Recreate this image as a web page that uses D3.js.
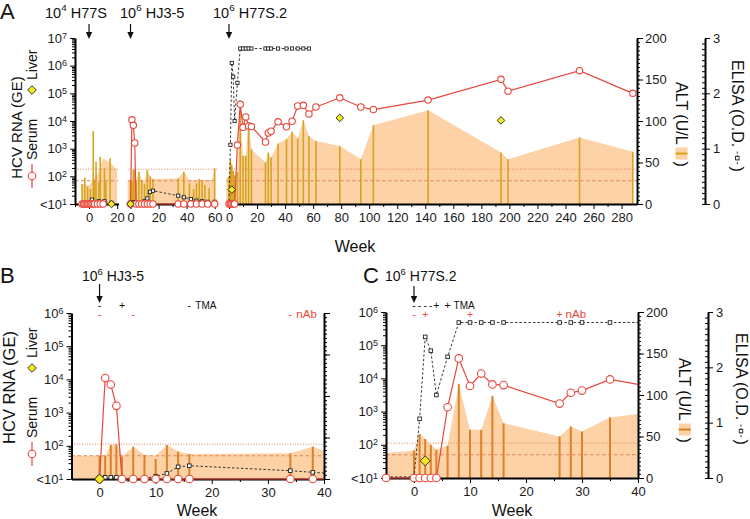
<!DOCTYPE html>
<html>
<head>
<script src="https://cdn.jsdelivr.net/npm/d3@7"></script>
<style>
body { margin: 0; background: #fff; }
svg { font-family: "Liberation Sans", Arial, Helvetica, sans-serif; }
.axis .domain { stroke: #000; stroke-width: 2; }
.axis line { stroke: #000; stroke-width: 1; }
.axis text { font-family: "Liberation Sans", Arial, sans-serif; font-size: 13px; fill: #1a1a1a; }
</style>
</head>
<body>
<script>

// weeks after each challenge; values below detection (<10^1) are kept as 10
var h77sSerumWeeks = [-5, -4, -3, -2, -1, 0, 1, 2, 3, 4, 6, 8, 10];
var h77sSerum      = [10, 10, 10, 10, 10, 10, 10, 10, 10, 10, 10, 10, 10];
var h77sElisaWeeks = [2, 7, 11, 16];
var h77sElisa      = [0.08, 0.05, 0.05, 0.02];
var h77sLiverWeeks = [16];
var h77sLiver      = [10];
var h77sAltWeeks   = [-5, -3, -1, 1, 3, 4, 5, 7, 8, 11, 12, 15];
var h77sAlt        = [24, 32, 21, 18, 88, 29, 51, 27, 57, 43, 27, 55];
var h77sAreaWeeks  = [-5, 0, 3, 6, 10, 15, 20];
var h77sArea       = [24, 22, 30, 35, 55, 50, 41];

var hj35Weeks      = [0, 1, 2, 3, 4, 6, 8, 10, 12, 14, 16, 34, 38, 43, 47, 51, 55, 60];
var hj35Serum      = [10, 11000, 7000, 1600, 10, 10, 10, 10, 10, 10, 10, 10, 10, 10, 10, 10, 10, 10];
var hj35Elisa      = [0.02, 0.03, 0.03, 0.03, 0.01, 0.01, 0.01, 0.05, 0.10, 0.22, 0.24, 0.15, 0.12, 0.09, 0.06, 0.05, 0.04, 0.04];
var hj35LiverWeeks = [0];
var hj35Liver      = [10];
var hj35AltWeeks   = [0, 1, 2, 3, 4, 6, 8, 10, 12, 14, 16, 34, 38, 42, 45, 47, 49, 51, 53, 56, 60];
var hj35Alt        = [28, 28, 41, 42, 27, 39, 29, 24, 41, 33, 30, 31, 39, 25, 18, 25, 30, 28, 23, 19, 43];
var hj35AreaWeeks  = [-5, 0, 1, 2, 3, 4, 6, 8, 10, 12, 14, 16, 34, 38, 42, 58, 60];
var hj35Area       = [28, 28, 28, 41, 42, 27, 39, 29, 28, 41, 33, 30, 31, 39, 29, 29, 43];

var h77s2Weeks      = [-5, 0, 1, 2, 3, 4, 6, 8, 10, 12, 14, 16, 26, 28, 30, 35, 41, 45, 49, 53, 57, 62, 79, 94, 103, 142, 194, 199, 250, 288];
var h77s2Serum      = [10, 10, 10, 10, 10, 10, 1350, 40000, 5900, 14000, 6600, 6300, 1740, 3700, 4300, 9300, 6200, 9800, 35000, 37000, 18000, 32000, 69000, 32000, 26000, 57000, 320000, 120000, 660000, 100000];
var h77s2ElisaWeeks = [-5, 0, 1, 2, 3, 4, 6, 8, 10, 12, 14, 16, 26, 28, 30, 35, 41, 45, 49, 53, 57];
var h77s2Elisa      = [0.02, 0.02, 1.07, 2.55, 2.30, 1.50, 2.19, 2.81, 2.81, 2.81, 2.81, 2.81, 2.81, 2.81, 2.81, 2.81, 2.81, 2.81, 2.81, 2.81, 2.81];
var h77s2LiverWeeks = [2, 79, 194];
var h77s2Liver      = [33, 13000, 10500];
var h77s2AltWeeks   = [0, 1, 2, 3, 4, 6, 8, 10, 12, 14, 16, 26, 28, 30, 35, 41, 45, 49, 53, 57, 62, 79, 94, 103, 142, 194, 199, 250, 288];
var h77s2Alt        = [33, 53, 47, 40, 34, 39, 113, 58, 58, 99, 66, 50, 62, 56, 73, 78, 87, 79, 101, 82, 76, 70, 54, 95, 113, 62, 54, 80, 63];
var h77s2AreaWeeks  = [-5, 0, 1, 2, 3, 4, 6, 8, 10, 12, 14, 16, 26, 28, 30, 35, 41, 45, 49, 53, 57, 62, 79, 94, 103, 142, 194, 199, 250, 288];
var h77s2Area       = [30, 33, 53, 47, 40, 34, 39, 113, 58, 58, 99, 66, 50, 62, 56, 73, 78, 87, 79, 101, 82, 76, 70, 54, 95, 113, 62, 54, 80, 63];

var altCutoffs = [42, 28];   // dotted, dashed

var seg1Ticks = [0, 20],  seg1Minor = [-10, 10];
var seg2Ticks = [0, 20, 40, 60], seg2Minor = [10, 30, 50];
var seg3Ticks = [0, 20, 40, 60, 80, 100, 120, 140, 160, 180, 200, 220, 240, 260, 280];
var seg3Minor = [10, 30, 50, 70, 90, 110, 130, 150, 170, 190, 210, 230, 250, 270];
var zoomTicks = [0, 10, 20, 30, 40], zoomMinor = [5, 15, 25, 35];
var altTicks = [0, 50, 100, 150, 200];
var elisaTicks = [0, 1, 2, 3];

var tmaBWeeks = [0, 4, 16],  tmaBSigns = ["-", "+", "-"];
var nabBWeeks = [0, 6, 34],  nabBSigns = ["-", "-", "-"];
var tmaCWeeks = [0, 1, 2, 3, 4, 6], tmaCSigns = ["-", "-", "-", "-", "+", "+"];
var nabCWeeks = [0, 2, 10, 26], nabCSigns = ["-", "+", "+", "+"];

var RED = "#e8473c", AREA = "#fcd2a6", GOLD = "#d6a51e", ORANGE = "#da8228",
	CUT = "#e0875a", DIA = "#f2ea1b";

function pack(sw, s, ew, e, lw, l, aw, a, bw, b) {
	return { serum: d3.zip(sw, s), elisa: d3.zip(ew, e), liver: d3.zip(lw, l),
		bars: d3.zip(aw, a), area: d3.zip(bw, b) };
}
var h77s = pack(h77sSerumWeeks, h77sSerum, h77sElisaWeeks, h77sElisa, h77sLiverWeeks, h77sLiver,
	h77sAltWeeks, h77sAlt, h77sAreaWeeks, h77sArea);
var hj35 = pack(hj35Weeks, hj35Serum, hj35Weeks, hj35Elisa, hj35LiverWeeks, hj35Liver,
	hj35AltWeeks, hj35Alt, hj35AreaWeeks, hj35Area);
var h77s2 = pack(h77s2Weeks, h77s2Serum, h77s2ElisaWeeks, h77s2Elisa, h77s2LiverWeeks, h77s2Liver,
	h77s2AltWeeks, h77s2Alt, h77s2AreaWeeks, h77s2Area);

var svg = d3.select("body").append("svg").attr("width", 750).attr("height", 519);
var defs = svg.append("defs");
var back = svg.append("g"), axes = svg.append("g"), front = svg.append("g");
var clipN = 0;

function diamond(s) { return "M0," + (-s) + "L" + s + ",0L0," + s + "L" + (-s) + ",0Z"; }

function block(x, yLog, yAlt, yEl, d, st) {
	var r = x.range(), dom = x.domain(), id = "clip" + (clipN++);
	var top = yAlt.range()[1], bot = yAlt.range()[0];
	defs.append("clipPath").attr("id", id).append("rect")
		.attr("x", r[0]).attr("y", top - 10).attr("width", r[1] - r[0]).attr("height", bot - top + 12);
	function inDom(p) { return p[0] >= dom[0] && p[0] <= dom[1]; }

	var b = back.append("g").attr("clip-path", "url(#" + id + ")");
	b.append("path").datum(d.area).attr("fill", AREA)
		.attr("d", d3.area().x(function(p) { return x(p[0]); }).y0(bot).y1(function(p) { return yAlt(p[1]); }));
	b.selectAll(".bar").data(d.bars.filter(inDom)).enter().append("line")
		.attr("x1", function(p) { return x(p[0]); }).attr("x2", function(p) { return x(p[0]); })
		.attr("y1", bot).attr("y2", function(p) { return yAlt(p[1]); })
		.attr("stroke", st.bar).attr("stroke-width", st.barW);
	b.selectAll(".cut").data(altCutoffs).enter().append("line")
		.attr("x1", r[0]).attr("x2", r[1])
		.attr("y1", function(v) { return yAlt(v); }).attr("y2", function(v) { return yAlt(v); })
		.attr("stroke", CUT).attr("stroke-width", 1)
		.attr("stroke-dasharray", function(v, i) { return i === 0 ? "1,1.6" : "3.5,2.5"; });

	var f = front.append("g");
	var fc = f.append("g").attr("clip-path", "url(#" + id + ")");
	fc.append("path").datum(d.elisa).attr("fill", "none").attr("stroke", "#222")
		.attr("stroke-width", 0.9).attr("stroke-dasharray", "2.5,2")
		.attr("d", d3.line().x(function(p) { return x(p[0]); }).y(function(p) { return yEl(p[1]); }));
	fc.append("path").datum(d.serum).attr("fill", "none").attr("stroke", RED).attr("stroke-width", 1.2)
		.attr("d", d3.line().x(function(p) { return x(p[0]); }).y(function(p) { return yLog(p[1]); }));
	f.selectAll(".sq").data(d.elisa.filter(inDom)).enter().append("rect")
		.attr("x", function(p) { return x(p[0]) - st.sq / 2; })
		.attr("y", function(p) { return yEl(p[1]) - st.sq / 2; })
		.attr("width", st.sq).attr("height", st.sq)
		.attr("fill", "#fff").attr("stroke", "#222").attr("stroke-width", 0.9);
	f.selectAll(".ci").data(d.serum.filter(inDom)).enter().append("circle")
		.attr("cx", function(p) { return x(p[0]); }).attr("cy", function(p) { return yLog(p[1]); })
		.attr("r", st.r).attr("fill", "#fff").attr("stroke", RED).attr("stroke-width", 1.1);
	f.selectAll(".di").data(d.liver.filter(inDom)).enter().append("path")
		.attr("transform", function(p) { return "translate(" + x(p[0]) + "," + yLog(p[1]) + ")"; })
		.attr("d", diamond(st.dia)).attr("fill", DIA).attr("stroke", "#222").attr("stroke-width", 0.9);
}

function xAxis(x, y0, majors, minors) {
	axes.append("g").attr("class", "axis").attr("transform", "translate(0," + y0 + ")")
		.call(d3.axisBottom(x).tickValues(minors).tickSize(3).tickFormat(""))
		.select(".domain").remove();
	axes.append("g").attr("class", "axis").attr("transform", "translate(0," + y0 + ")")
		.call(d3.axisBottom(x).tickValues(majors).tickSize(5).tickSizeOuter(0).tickPadding(4).tickFormat(d3.format("d")));
}

function logAxis(y, x0, maxExp) {
	var majors = d3.range(1, maxExp + 1).map(function(e) { return Math.pow(10, e); });
	var minors = [];
	for (var e = 1; e < maxExp; e++) for (var m = 2; m < 10; m++) minors.push(m * Math.pow(10, e));
	axes.append("g").attr("class", "axis").attr("transform", "translate(" + x0 + ",0)")
		.call(d3.axisLeft(y).tickValues(minors).tickSize(3).tickFormat(""))
		.select(".domain").remove();
	var ax = axes.append("g").attr("class", "axis").attr("transform", "translate(" + x0 + ",0)")
		.call(d3.axisLeft(y).tickValues(majors).tickSize(5).tickSizeOuter(0).tickPadding(3));
	ax.selectAll(".tick text").text(null).each(function(v) {
		var t = d3.select(this), ex = Math.round(Math.log10(v));
		t.append("tspan").text(ex === 1 ? "<10" : "10");
		t.append("tspan").attr("dy", "-0.45em").style("font-size", "9px").text(ex);
	});
}

function altAxis(y, x0, labels) {
	axes.append("g").attr("class", "axis").attr("transform", "translate(" + x0 + ",0)")
		.call(d3.axisRight(y).tickValues(d3.range(0, 201, 5)).tickSize(3).tickFormat(""))
		.select(".domain").remove();
	axes.append("g").attr("class", "axis").attr("transform", "translate(" + x0 + ",0)")
		.call(d3.axisRight(y).tickValues(altTicks).tickSize(6).tickSizeOuter(0).tickPadding(2)
			.tickFormat(labels ? d3.format("d") : ""));
}

function elisaAxis(y, x0) {
	axes.append("g").attr("class", "axis").attr("transform", "translate(" + x0 + ",0)")
		.call(d3.axisLeft(y).tickValues(d3.range(0, 30).map(function(i) { return i / 10; })).tickSize(3).tickFormat(""))
		.select(".domain").remove();
	axes.append("g").attr("class", "axis").attr("transform", "translate(" + x0 + ",0)")
		.call(d3.axisRight(y).tickValues(elisaTicks).tickSize(5).tickSizeOuter(0).tickPadding(3).tickFormat(d3.format("d")));
}

function dose(tx, ty, exp, name, fs, ax, y1, y2) {
	var t = front.append("text").attr("x", tx).attr("y", ty).style("font-size", fs + "px").attr("fill", "#111");
	t.append("tspan").text("10");
	t.append("tspan").attr("dy", -fs * 0.42).style("font-size", (fs * 0.68) + "px").text(exp);
	t.append("tspan").attr("dy", fs * 0.42).text("\u00a0" + name);
	front.append("line").attr("x1", ax).attr("x2", ax).attr("y1", y1).attr("y2", y2 - 5)
		.attr("stroke", "#111").attr("stroke-width", 1.2);
	front.append("path").attr("d", "M" + (ax - 3.2) + "," + (y2 - 7) + "L" + (ax + 3.2) + "," + (y2 - 7) + "L" + ax + "," + y2 + "Z")
		.attr("fill", "#111");
}

function signs(x, weeks, marks, y, color, label, lfs) {
	weeks.forEach(function(w, i) {
		front.append("text").attr("x", x(w)).attr("y", y).attr("text-anchor", "middle")
			.style("font-size", "10.5px").attr("fill", color).text(marks[i]);
	});
	front.append("text").attr("x", x(weeks[weeks.length - 1]) + 6).attr("y", y - 0.5)
		.style("font-size", lfs + "px").attr("fill", color).text(label);
}

function hcvLabel(bx, cy, fs) {
	front.append("text").attr("transform", "translate(" + bx + "," + cy + ") rotate(-90)")
		.attr("text-anchor", "middle").style("font-size", fs + "px").attr("fill", "#111").text("HCV RNA (GE)");
}

function sampleLegend(cx, yb) {
	var g = front.append("g").attr("transform", "translate(" + (cx + 5) + "," + yb + ") rotate(-90)");
	g.append("line").attr("x1", 0).attr("x2", 24).attr("y1", -5).attr("y2", -5).attr("stroke", RED).attr("stroke-width", 1.2);
	g.append("circle").attr("cx", 12).attr("cy", -5).attr("r", 3.8).attr("fill", "#fff").attr("stroke", RED).attr("stroke-width", 1.1);
	g.append("text").attr("x", 28).style("font-size", "14px").attr("fill", "#111").text("Serum");
	g.append("path").attr("transform", "translate(98,-5)").attr("d", diamond(4.3))
		.attr("fill", DIA).attr("stroke", "#222").attr("stroke-width", 0.9);
	g.append("text").attr("x", 108).style("font-size", "14px").attr("fill", "#111").text("Liver");
}

function altLabel(cx, y0, barColor) {
	var g = front.append("g").attr("transform", "translate(" + (cx - 5.7) + "," + y0 + ") rotate(90)");
	var t = g.append("text").style("font-size", "16px").attr("fill", "#111").text("ALT (U/L");
	var L = t.node().getComputedTextLength();
	g.append("rect").attr("x", L + 3).attr("y", -11.5).attr("width", 12).attr("height", 12).attr("fill", AREA);
	g.append("line").attr("x1", L + 9).attr("x2", L + 9).attr("y1", -11.5).attr("y2", 0.5)
		.attr("stroke", barColor).attr("stroke-width", 2);
	g.append("text").attr("x", L + 17).style("font-size", "16px").attr("fill", "#111").text(")");
}

function elisaLabel(cx, y0) {
	var g = front.append("g").attr("transform", "translate(" + (cx - 5.7) + "," + y0 + ") rotate(90)");
	var t = g.append("text").style("font-size", "16px").attr("fill", "#111").text("ELISA (O.D.\u00a0");
	var L = t.node().getComputedTextLength();
	g.append("line").attr("x1", L).attr("x2", L + 13).attr("y1", -5).attr("y2", -5)
		.attr("stroke", "#222").attr("stroke-width", 0.9).attr("stroke-dasharray", "2,1.5");
	g.append("rect").attr("x", L + 4.75).attr("y", -6.75).attr("width", 3.5).attr("height", 3.5)
		.attr("fill", "#fff").attr("stroke", "#222").attr("stroke-width", 0.9);
	g.append("text").attr("x", L + 15).style("font-size", "16px").attr("fill", "#111").text(")");
}

function text(x, y, s, fs, anchor) {
	front.append("text").attr("x", x).attr("y", y).attr("text-anchor", anchor || "start")
		.style("font-size", fs + "px").attr("fill", "#111").text(s);
}

// ---------- panel A ----------
var aTop = 38, aBot = 204;
var aLog = d3.scaleLog().domain([10, 1e7]).range([aBot, aTop]);
var aAlt = d3.scaleLinear().domain([0, 200]).range([aBot, aTop]);
var aEl = d3.scaleLinear().domain([0, 3]).range([aBot, aTop]);
var aStyle = { bar: GOLD, barW: 1.6, r: 3.2, sq: 3.2, dia: 3.8 };

var seg1 = d3.scaleLinear().domain([-10, 21]).range([75, 118.5]);
var seg2 = d3.scaleLinear().domain([-2, 62]).range([127.7, 217.5]);
var seg3 = d3.scaleLinear().domain([-2, 291]).range([226.2, 637]);

block(seg1, aLog, aAlt, aEl, h77s, aStyle);
block(seg2, aLog, aAlt, aEl, hj35, aStyle);
block(seg3, aLog, aAlt, aEl, h77s2, aStyle);
xAxis(seg1, aBot, seg1Ticks, seg1Minor);
xAxis(seg2, aBot, seg2Ticks, seg2Minor);
xAxis(seg3, aBot, seg3Ticks, seg3Minor);
logAxis(aLog, 75, 7);
altAxis(aAlt, 637, true);
elisaAxis(aEl, 705);

dose(45, 17.5, "4", "H77S", 14.5, seg1(0), 24, 39);
dose(120, 17.5, "6", "HJ3-5", 14.5, seg2(0), 24, 39);
dose(213, 17.5, "6", "H77S.2", 14.5, seg3(0), 24, 39);
text(355, 252, "Week", 16, "middle");
text(0, 19, "A", 22);
hcvLabel(21.8, 127.5, 15);
sampleLegend(32, 188);
altLabel(681.7, 82, GOLD);
elisaLabel(738, 60);

// ---------- panel B ----------
var bTop = 313, bBot = 479;
var bx = d3.scaleLinear().domain([-5, 40]).range([71.5, 324]);
var bLog = d3.scaleLog().domain([10, 1e6]).range([bBot, bTop]);
var bAlt = d3.scaleLinear().domain([0, 200]).range([bBot, bTop]);
var bEl = d3.scaleLinear().domain([0, 3]).range([bBot, bTop]);
var zStyle = { bar: ORANGE, barW: 2, r: 3.8, sq: 3.6, dia: 5 };

block(bx, bLog, bAlt, bEl, hj35, zStyle);
xAxis(bx, bBot, zoomTicks, zoomMinor);
logAxis(bLog, 71.5, 6);
altAxis(bAlt, 324, false);
dose(82, 281, "6", "HJ3-5", 14, bx(0), 284, 303);
signs(bx, tmaBWeeks, tmaBSigns, 309, "#111", "TMA", 10);
signs(bx, nabBWeeks, nabBSigns, 318, RED, "nAb", 11.5);
text(197, 516, "Week", 16, "middle");
text(0, 283, "B", 22);
hcvLabel(14.5, 387.5, 16.5);
sampleLegend(32, 466);

// ---------- panel C ----------
var cTop = 312, cBot = 478;
var cx = d3.scaleLinear().domain([-5, 40]).range([386, 638]);
var cLog = d3.scaleLog().domain([10, 1e6]).range([cBot, cTop]);
var cAlt = d3.scaleLinear().domain([0, 200]).range([cBot, cTop]);
var cEl = d3.scaleLinear().domain([0, 3]).range([cBot, cTop]);

block(cx, cLog, cAlt, cEl, h77s2, zStyle);
xAxis(cx, cBot, zoomTicks, zoomMinor);
logAxis(cLog, 386, 6);
altAxis(cAlt, 638, true);
elisaAxis(cEl, 708);
dose(385, 281, "6", "H77S.2", 14, cx(0), 286, 303);
signs(cx, tmaCWeeks, tmaCSigns, 309, "#111", "TMA", 10);
signs(cx, nabCWeeks, nabCSigns, 318, RED, "nAb", 11.5);
text(512, 516, "Week", 16, "middle");
text(363, 283, "C", 22);
altLabel(685, 358, ORANGE);
elisaLabel(741.7, 333);

</script>
</body>
</html>
